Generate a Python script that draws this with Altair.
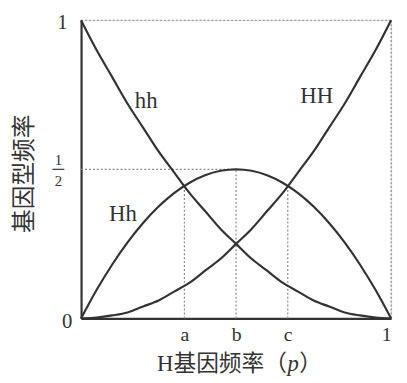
import altair as alt
import pandas as pd

# ---- data ----
p_vals = [0, 0.05, 0.1, 0.15, 0.2, 0.25, 0.3, 0.35, 0.4, 0.45, 0.5,
          0.55, 0.6, 0.65, 0.7, 0.75, 0.8, 0.85, 0.9, 0.95, 1]
hh_vals = [1, 0.90, 0.81, 0.72, 0.64, 0.56, 0.49, 0.42, 0.36, 0.30, 0.25,
           0.20, 0.16, 0.12, 0.09, 0.06, 0.04, 0.02, 0.01, 0.003, 0]
HH_vals = [0, 0.003, 0.01, 0.02, 0.04, 0.06, 0.09, 0.12, 0.16, 0.20, 0.25,
           0.30, 0.36, 0.42, 0.49, 0.56, 0.64, 0.72, 0.81, 0.90, 1]
Hh_vals = [0, 0.095, 0.18, 0.255, 0.32, 0.375, 0.42, 0.455, 0.48, 0.495, 0.5,
           0.495, 0.48, 0.455, 0.42, 0.375, 0.32, 0.255, 0.18, 0.095, 0]

x_tick_vals = [1/3, 0.5, 2/3, 1]
x_tick_text = ["a", "b", "c", "1"]

guide_x = [0, 1, 0, 1/3, 0.5, 2/3]
guide_y = [1, 0, 0.5, 0, 0, 0]
guide_x2 = [1, 1, 0.5, 1/3, 0.5, 2/3]
guide_y2 = [1, 1, 0.5, 4/9, 0.5, 4/9]

curve_names = ["hh", "Hh", "HH"]
label_x = [0.21, 0.135, 0.76]
label_y = [0.73, 0.35, 0.745]

x_title_parts = ["H基因频率（", "p", "）"]

FONT = "Liberation Serif, Noto Sans CJK SC"
INK = "#333333"

rows = []
for name, vals in zip(curve_names, [hh_vals, Hh_vals, HH_vals]):
    for p, v in zip(p_vals, vals):
        rows.append({"p": p, "v": v, "g": name})
curves_df = pd.DataFrame(rows)

guides_df = pd.DataFrame({"x": guide_x, "y": guide_y, "x2": guide_x2, "y2": guide_y2})
labels_df = pd.DataFrame({"x": label_x, "y": label_y, "t": curve_names})

xs = alt.Scale(domain=[0, 1], nice=False, zero=False)
ys = alt.Scale(domain=[0, 1], nice=False, zero=False)

label_expr = " : ".join(
    f"abs(datum.value - {v}) < 0.01 ? '{t}'" for v, t in zip(x_tick_vals, x_tick_text)
) + " : ''"

lines = alt.Chart(curves_df).mark_line(
    color=INK, strokeWidth=2.2, interpolate="monotone"
).encode(
    x=alt.X("p:Q", scale=xs, axis=alt.Axis(
        values=x_tick_vals, labelExpr=label_expr, ticks=False, grid=False,
        domainColor=INK, domainWidth=2.2, labelFont=FONT, labelFontSize=20,
        labelColor=INK, labelPadding=6, title=None)),
    y=alt.Y("v:Q", scale=ys, axis=alt.Axis(
        values=[0, 1], labels=False, ticks=False, grid=False,
        domainColor=INK, domainWidth=2.2,
        title="基因型频率", titleFont=FONT, titleFontSize=24,
        titleFontWeight="normal", titleColor=INK, titleAngle=270,
        titleX=-57, titleY=155, titleBaseline="middle", titleAlign="center")),
    detail="g:N",
)

guides = alt.Chart(guides_df).mark_rule(
    color="#8a8a8a", strokeWidth=1.2, strokeDash=[2, 2]
).encode(x=alt.X("x:Q", scale=xs), y=alt.Y("y:Q", scale=ys), x2="x2:Q", y2="y2:Q")

curve_labels = alt.Chart(labels_df).mark_text(
    font=FONT, fontSize=23, color=INK
).encode(x=alt.X("x:Q", scale=xs), y=alt.Y("y:Q", scale=ys), text="t:N")

base_txt = dict(font=FONT, color=INK)
one_y = alt.Chart(pd.DataFrame({"x": [0], "y": [1], "t": ["1"]})).mark_text(
    fontSize=21, dx=-19, dy=3, **base_txt
).encode(x=alt.X("x:Q", scale=xs), y=alt.Y("y:Q", scale=ys), text="t:N")
zero_lbl = alt.Chart(pd.DataFrame({"x": [0], "y": [0], "t": ["0"]})).mark_text(
    fontSize=21, dx=-14, dy=4, **base_txt
).encode(x=alt.X("x:Q", scale=xs), y=alt.Y("y:Q", scale=ys), text="t:N")
frac_num = alt.Chart(pd.DataFrame({"x": [0], "y": [0.5], "t": ["1"]})).mark_text(
    fontSize=15, dx=-23, dy=-9, **base_txt
).encode(x=alt.X("x:Q", scale=xs), y=alt.Y("y:Q", scale=ys), text="t:N")
frac_den = alt.Chart(pd.DataFrame({"x": [0], "y": [0.5], "t": ["2"]})).mark_text(
    fontSize=15, dx=-23, dy=12, **base_txt
).encode(x=alt.X("x:Q", scale=xs), y=alt.Y("y:Q", scale=ys), text="t:N")
frac_bar = alt.Chart(pd.DataFrame({"y": [0.5]})).mark_rule(
    color=INK, strokeWidth=1.2
).encode(x=alt.value(-29), x2=alt.value(-17), y=alt.Y("y:Q", scale=ys))

# x-axis title in three pieces so that p can be italic
title_y = alt.value(302 + 46)
t1 = alt.Chart(pd.DataFrame({"t": [x_title_parts[0]]})).mark_text(
    fontSize=23, align="left", baseline="middle", **base_txt
).encode(x=alt.value(77), y=title_y, text="t:N")
t2 = alt.Chart(pd.DataFrame({"t": [x_title_parts[1]]})).mark_text(
    fontSize=23, align="left", baseline="middle", fontStyle="italic", **base_txt
).encode(x=alt.value(209), y=title_y, text="t:N")
t3 = alt.Chart(pd.DataFrame({"t": [x_title_parts[2]]})).mark_text(
    fontSize=23, align="left", baseline="middle", **base_txt
).encode(x=alt.value(221), y=title_y, text="t:N")

chart = alt.layer(
    guides, lines, curve_labels, one_y, zero_lbl, frac_num, frac_den, frac_bar,
    t1, t2, t3
).properties(
    width=314, height=302,
    padding={"left": 74, "top": 10, "right": 8, "bottom": 60},
    autosize=alt.AutoSizeParams(type="none"),
).configure_view(stroke=None).configure(background="white")

chart.save("out.html", embed_options={"renderer": "svg", "actions": False})
